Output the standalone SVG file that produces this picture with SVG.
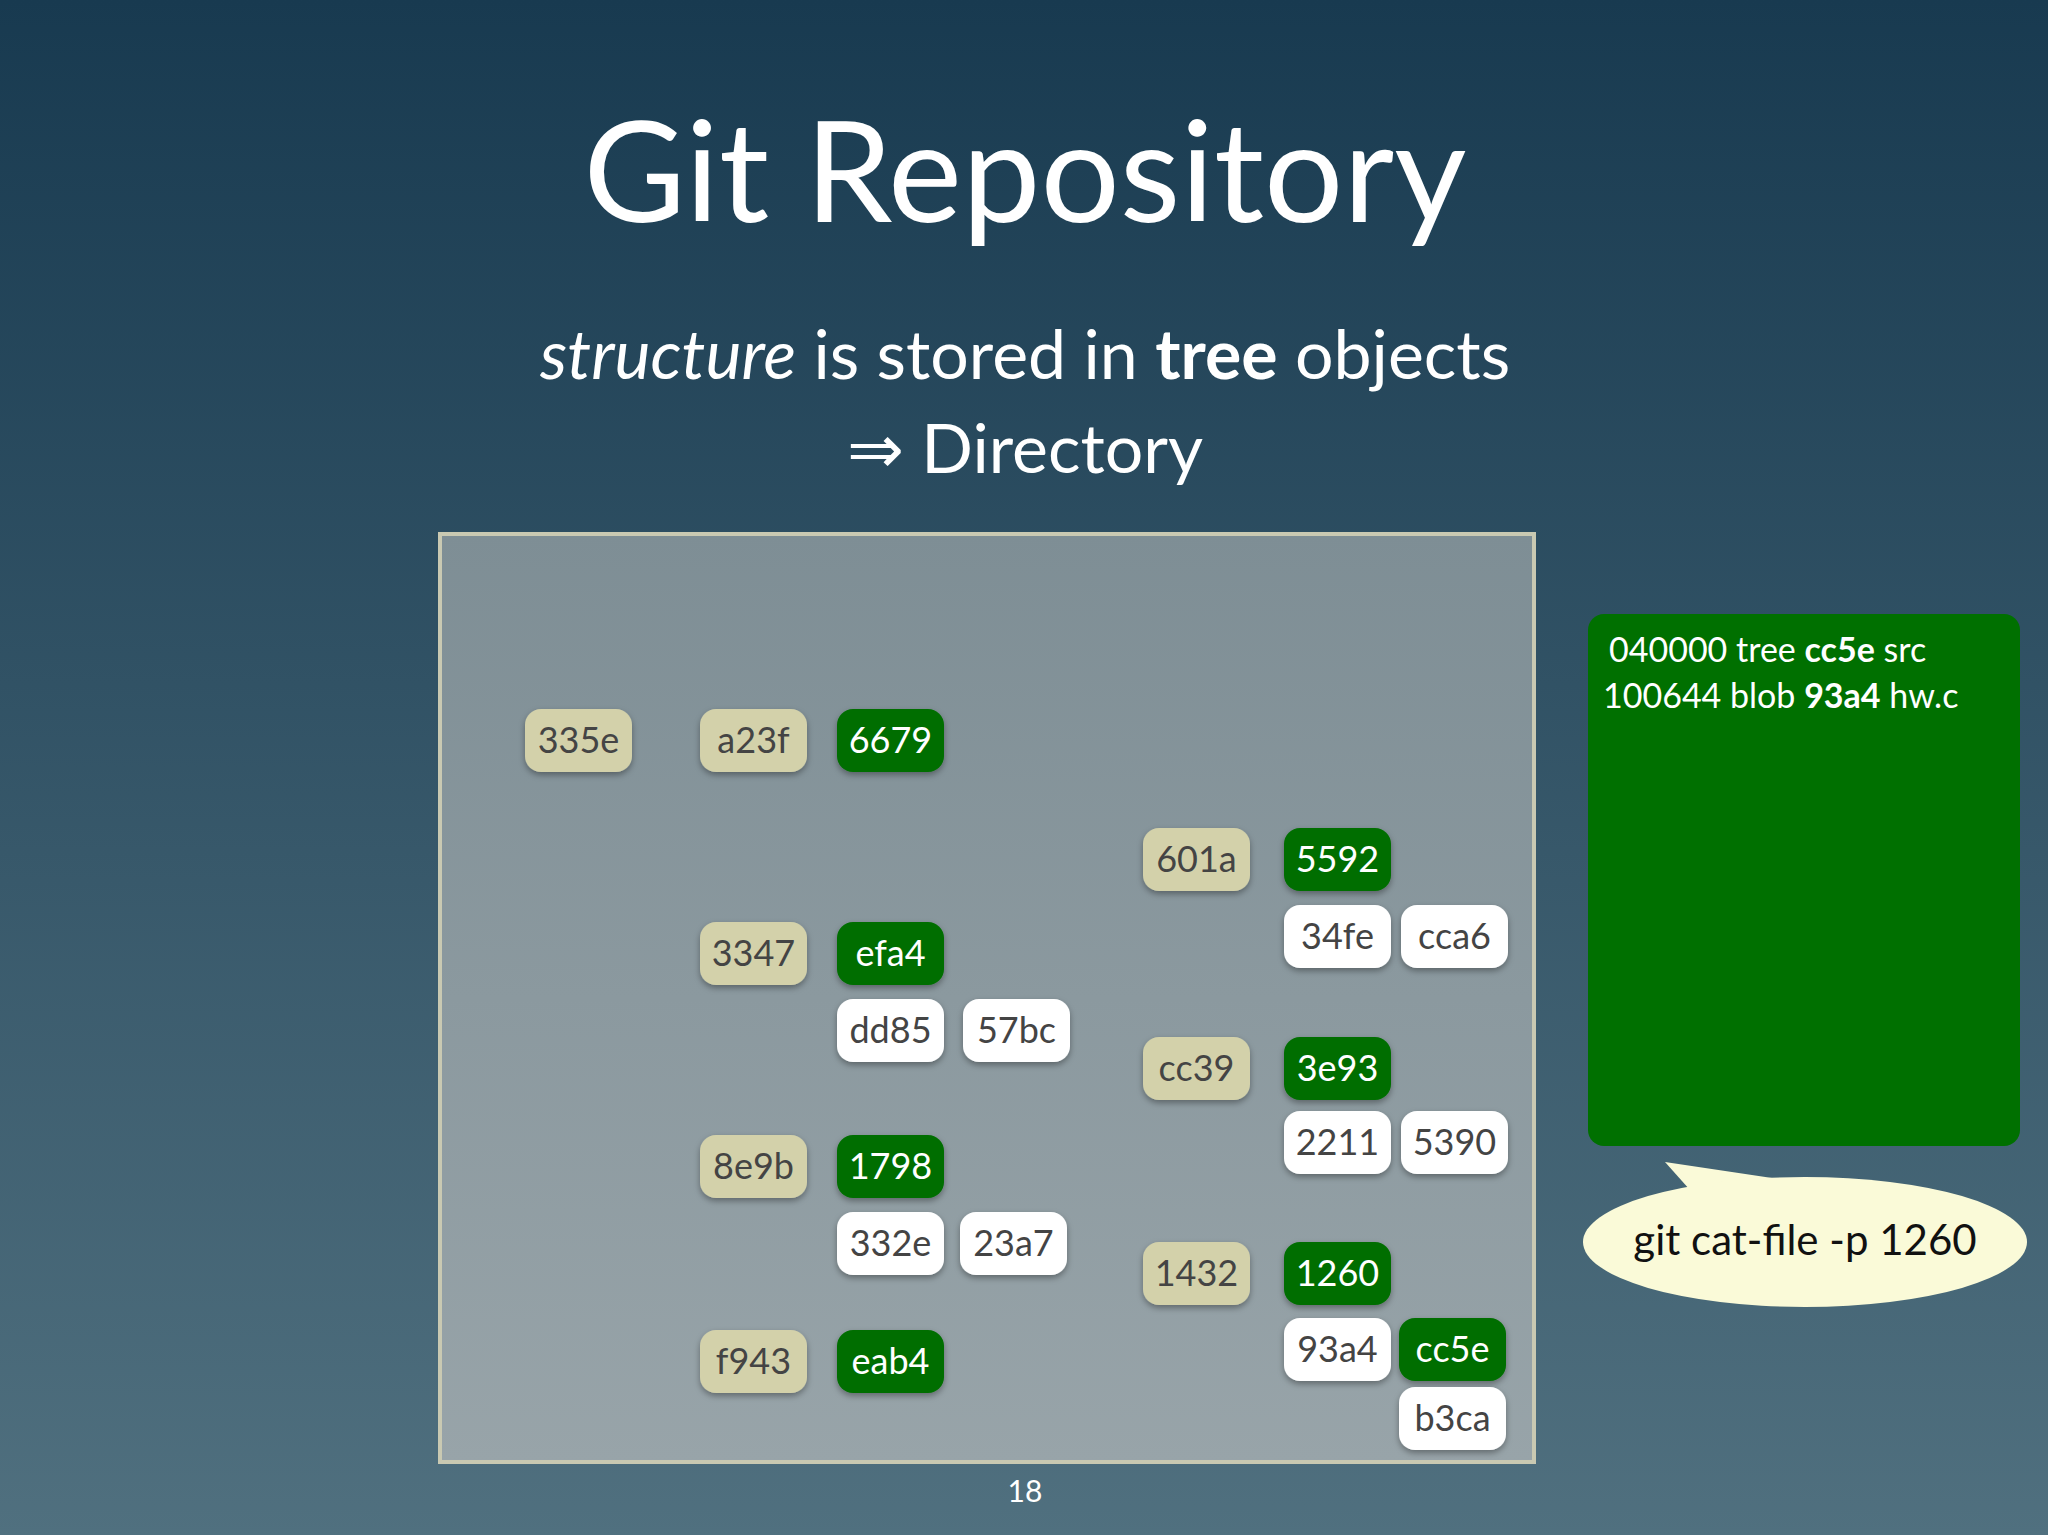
<svg xmlns="http://www.w3.org/2000/svg" width="2048" height="1535" viewBox="0 0 2048 1535">
<defs>
<linearGradient id="bg" x1="0" y1="0" x2="0" y2="1"><stop offset="0" stop-color="#183a50"/><stop offset="1" stop-color="#50707f"/></linearGradient>
<linearGradient id="pn" x1="0" y1="0" x2="0" y2="1"><stop offset="0" stop-color="#7e8e95"/><stop offset="1" stop-color="#98a4a9"/></linearGradient>
<filter id="sh" x="-20%" y="-20%" width="140%" height="150%"><feDropShadow dx="0" dy="3" stdDeviation="3" flood-color="#000" flood-opacity="0.35"/></filter>
</defs>
<style>
text{font-family:Lato,"Open Sans","DejaVu Sans",sans-serif}
.n rect{filter:url(#sh)}
.t rect{fill:#d3d1aa}.t text{fill:#444}
.g rect{fill:#006e00}.g text{fill:#fff}
.w rect{fill:#fff}.w text{fill:#444}
.n text{font-size:36px;text-anchor:middle}
</style>
<rect width="2048" height="1535" fill="url(#bg)"/>
<text x="1025" y="222" font-size="140" fill="#fff" text-anchor="middle">Git Repository</text>
<text x="1025" y="379" font-size="68" fill="#fff" text-anchor="middle"><tspan font-style="italic">structure</tspan> is stored in <tspan font-weight="bold">tree</tspan> objects</text>
<text x="1025" y="473" font-size="68" fill="#fff" text-anchor="middle">⇒ Directory</text>
<rect x="440" y="534" width="1094" height="928" fill="url(#pn)" stroke="#c9c9b2" stroke-width="4"/>
<g id="connectors"></g>
<g id="n335e" class="n t"><rect x="525" y="709" width="107" height="63" rx="16"/><text x="578.5" y="753">335e</text></g>
<g id="na23f" class="n t"><rect x="700" y="709" width="107" height="63" rx="16"/><text x="753.5" y="753">a23f</text></g>
<g id="n6679" class="n g"><rect x="837" y="709" width="107" height="63" rx="16"/><text x="890.5" y="753">6679</text></g>
<g id="n601a" class="n t"><rect x="1143" y="828" width="107" height="63" rx="16"/><text x="1196.5" y="872">601a</text></g>
<g id="n5592" class="n g"><rect x="1284" y="828" width="107" height="63" rx="16"/><text x="1337.5" y="872">5592</text></g>
<g id="n34fe" class="n w"><rect x="1284" y="905" width="107" height="63" rx="16"/><text x="1337.5" y="949">34fe</text></g>
<g id="ncca6" class="n w"><rect x="1401" y="905" width="107" height="63" rx="16"/><text x="1454.5" y="949">cca6</text></g>
<g id="n3347" class="n t"><rect x="700" y="922" width="107" height="63" rx="16"/><text x="753.5" y="966">3347</text></g>
<g id="nefa4" class="n g"><rect x="837" y="922" width="107" height="63" rx="16"/><text x="890.5" y="966">efa4</text></g>
<g id="ndd85" class="n w"><rect x="837" y="999" width="107" height="63" rx="16"/><text x="890.5" y="1043">dd85</text></g>
<g id="n57bc" class="n w"><rect x="963" y="999" width="107" height="63" rx="16"/><text x="1016.5" y="1043">57bc</text></g>
<g id="ncc39" class="n t"><rect x="1143" y="1037" width="107" height="63" rx="16"/><text x="1196.5" y="1081">cc39</text></g>
<g id="n3e93" class="n g"><rect x="1284" y="1037" width="107" height="63" rx="16"/><text x="1337.5" y="1081">3e93</text></g>
<g id="n2211" class="n w"><rect x="1284" y="1111" width="107" height="63" rx="16"/><text x="1337.5" y="1155">2211</text></g>
<g id="n5390" class="n w"><rect x="1401" y="1111" width="107" height="63" rx="16"/><text x="1454.5" y="1155">5390</text></g>
<g id="n8e9b" class="n t"><rect x="700" y="1135" width="107" height="63" rx="16"/><text x="753.5" y="1179">8e9b</text></g>
<g id="n1798" class="n g"><rect x="837" y="1135" width="107" height="63" rx="16"/><text x="890.5" y="1179">1798</text></g>
<g id="n332e" class="n w"><rect x="837" y="1212" width="107" height="63" rx="16"/><text x="890.5" y="1256">332e</text></g>
<g id="n23a7" class="n w"><rect x="960" y="1212" width="107" height="63" rx="16"/><text x="1013.5" y="1256">23a7</text></g>
<g id="n1432" class="n t"><rect x="1143" y="1242" width="107" height="63" rx="16"/><text x="1196.5" y="1286">1432</text></g>
<g id="n1260" class="n g"><rect x="1284" y="1242" width="107" height="63" rx="16"/><text x="1337.5" y="1286">1260</text></g>
<g id="n93a4" class="n w"><rect x="1284" y="1318" width="107" height="63" rx="16"/><text x="1337.5" y="1362">93a4</text></g>
<g id="ncc5e" class="n g"><rect x="1399" y="1318" width="107" height="63" rx="16"/><text x="1452.5" y="1362">cc5e</text></g>
<g id="nb3ca" class="n w"><rect x="1399" y="1387" width="107" height="63" rx="16"/><text x="1452.5" y="1431">b3ca</text></g>
<g id="nf943" class="n t"><rect x="700" y="1330" width="107" height="63" rx="16"/><text x="753.5" y="1374">f943</text></g>
<g id="neab4" class="n g"><rect x="837" y="1330" width="107" height="63" rx="16"/><text x="890.5" y="1374">eab4</text></g>
<g id="output">
<rect x="1588" y="614" width="432" height="532" rx="16" fill="#007000"/>
<text x="1609" y="662" font-size="34" fill="#fff">040000 tree <tspan font-weight="bold">cc5e</tspan> src</text>
<text x="1603" y="708" font-size="34" fill="#fff">100644 blob <tspan font-weight="bold">93a4</tspan> hw.c</text>
</g>
<g id="bubble">
<path d="M1665,1162 L1772,1178 L1690,1190 Z" fill="#fafad8"/>
<ellipse cx="1805" cy="1242" rx="222" ry="65" fill="#fafad8"/>
<text x="1805" y="1255" font-size="42" fill="#111" text-anchor="middle">git cat-file -p 1260</text>
</g>
<text x="1025" y="1502" font-size="30" fill="#fff" text-anchor="middle">18</text>
</svg>
